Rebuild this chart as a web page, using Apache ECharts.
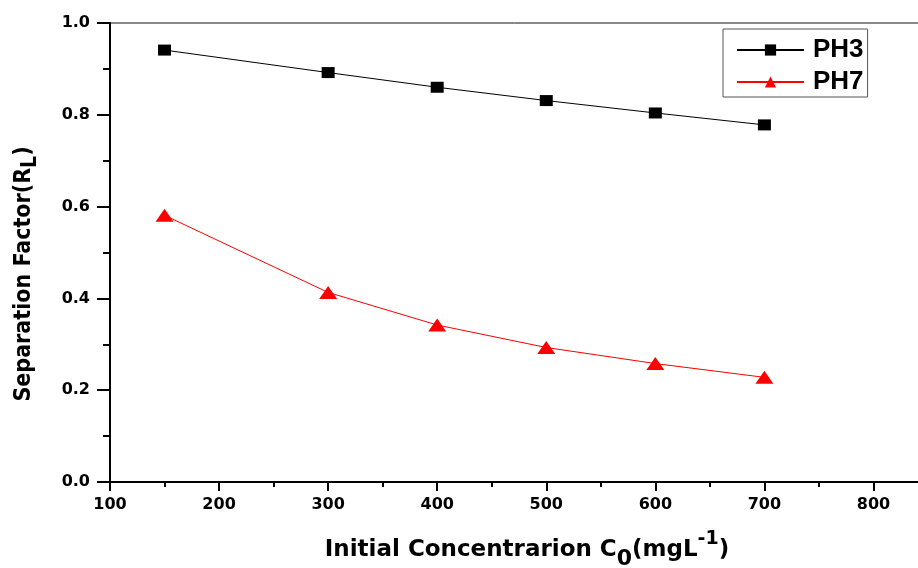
<!DOCTYPE html>
<html>
<head>
<meta charset="utf-8">
<script src="https://cdn.jsdelivr.net/npm/echarts@6/dist/echarts.min.js"></script>
<style>
  html, body { margin: 0; padding: 0; background: #fff; }
  #chart { width: 918px; height: 568px; }
</style>
</head>
<body>
<div id="chart"></div>
<script>
// values
const concentrations = [150, 300, 400, 500, 600, 700]
const ph3 = [0.941, 0.892, 0.860, 0.831, 0.804, 0.778]
const ph7 = [0.581, 0.413, 0.342, 0.293, 0.258, 0.228]

const pairs = values => concentrations.map((c, i) => [c, values[i]])

const tickFont = 'DejaVu Sans'
const titleFont = "'Liberation Sans Narrow', 'DejaVu Sans Condensed', 'Liberation Sans', Arial, sans-serif"
const chart = echarts.init(document.getElementById('chart'))

const options = {
  animation: false,
  backgroundColor: '#fff',
  // plot runs past the right edge, as in the cropped original
  grid: {
    left: 110,
    top: 23,
    width: 818,
    bottom: 86,
    outerBoundsMode: 'none',
    containLabel: false,
    show: true,
    borderColor: '#111',
    borderWidth: 1,
    backgroundColor: 'transparent'
  },
  legend: {
    orient: 'vertical',
    left: 723,
    top: 29,
    padding: [8, 4, 2, 13],
    itemWidth: 67,
    itemHeight: 14,
    itemGap: 6,
    borderColor: '#555',
    borderWidth: 1,
    textStyle: {
      fontFamily: 'Liberation Sans',
      fontWeight: 'bold',
      fontSize: 26,
      lineHeight: 22,
      color: '#000',
      padding: [0, 0, 0, 4]
    },
    data: ['PH3', 'PH7']
  },
  xAxis: {
    type: 'value',
    min: 100,
    max: 850,
    interval: 100,
    splitLine: { show: false },
    axisLine: { onZero: false, lineStyle: { color: '#000', width: 2 } },
    axisTick: { length: 9, lineStyle: { color: '#000', width: 2 } },
    minorTick: { show: true, splitNumber: 2, length: 5, lineStyle: { color: '#000', width: 2 } },
    axisLabel: {
      margin: 15,
      color: '#000',
      fontFamily: tickFont,
      fontWeight: 'bold',
      fontSize: 16,
      showMaxLabel: false
    }
  },
  yAxis: {
    type: 'value',
    min: 0,
    max: 1,
    interval: 0.2,
    splitLine: { show: false },
    axisLine: { show: true, lineStyle: { color: '#000', width: 2 } },
    axisTick: { show: true, length: 13, lineStyle: { color: '#000', width: 2 } },
    minorTick: { show: true, splitNumber: 2, length: 7, lineStyle: { color: '#000', width: 2 } },
    axisLabel: {
      margin: 20,
      color: '#000',
      fontFamily: tickFont,
      fontWeight: 'bold',
      fontSize: 16,
      formatter: v => v.toFixed(1)
    }
  },
  graphic: [
    {
      type: 'text',
      x: 527,
      y: 550,
      style: {
        text: '{a|Initial Concentrarion C}{sub|0}{a|(mgL}{sup|-1}{a|)}',
        align: 'center',
        verticalAlign: 'middle',
        rich: {
          a: { fontFamily: tickFont, fontWeight: 'bold', fontSize: 23, lineHeight: 40, fill: '#000' },
          sub: { fontFamily: tickFont, fontWeight: 'bold', fontSize: 22, lineHeight: 40, verticalAlign: 'bottom', fill: '#000' },
          sup: { fontFamily: tickFont, fontWeight: 'bold', fontSize: 19, lineHeight: 40, verticalAlign: 'top', fill: '#000' }
        }
      }
    },
    {
      type: 'text',
      x: 24,
      y: 274,
      rotation: Math.PI / 2,
      style: {
        text: '{a|Separation Factor(R}{sub|L}{a|)}',
        align: 'center',
        verticalAlign: 'middle',
        rich: {
          a: { fontFamily: titleFont, fontWeight: 'bold', fontSize: 23, lineHeight: 34, fill: '#000' },
          sub: { fontFamily: titleFont, fontWeight: 'bold', fontSize: 21, lineHeight: 34, verticalAlign: 'bottom', fill: '#000' }
        }
      }
    }
  ],
  series: [
    {
      name: 'PH3',
      type: 'line',
      data: pairs(ph3),
      symbol: 'rect',
      symbolSize: [13, 11],
      itemStyle: { color: '#000' },
      lineStyle: { color: '#000', width: 1 }
    },
    {
      name: 'PH7',
      type: 'line',
      data: pairs(ph7),
      symbol: 'triangle',
      symbolSize: [18, 13],
      itemStyle: { color: '#ff0000' },
      lineStyle: { color: '#ff0000', width: 1 }
    }
  ]
}
chart.setOption(options)
</script>
</body>
</html>
